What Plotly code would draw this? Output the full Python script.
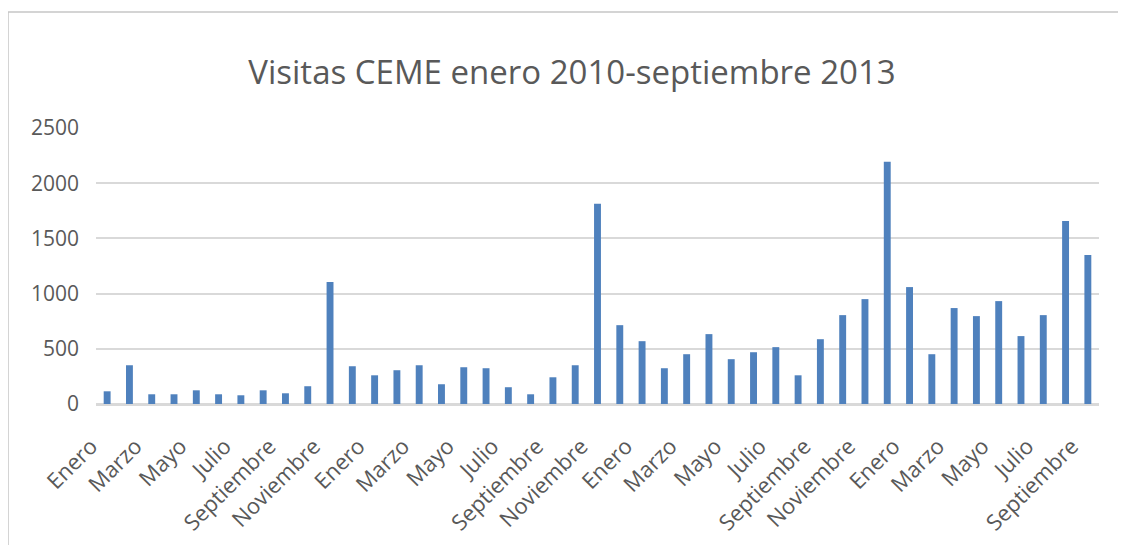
import plotly.graph_objects as go

months = ["Enero", "Febrero", "Marzo", "Abril", "Mayo", "Junio", "Julio", "Agosto",
          "Septiembre", "Octubre", "Noviembre", "Diciembre"]
years = [2010, 2011, 2012, 2013]
categories = [f"{m} {y}" for y in years for m in months][:45]
visitas = [115, 351, 88, 88, 124, 88, 79, 124, 97, 161, 1105, 342,
           260, 306, 351, 179, 333, 324, 152, 88, 242, 351, 1813, 714,
           569, 324, 451, 633, 406, 469, 515, 260, 587, 805, 950, 2194,
           1059, 451, 869, 796, 932, 615, 805, 1658, 1350]
tick_vals = categories[::2]
tick_text = [c.split(" ")[0] for c in tick_vals]

# page has an 8px body margin, so the figure is drawn 8px in from the top-left
OFF = 8
W, H = 1126 - OFF, 545 - OFF
ml, mt = 96 - OFF, 128 - OFF
plot_right, plot_bottom = 1099 - OFF, 404 - OFF
mr, mb = W - plot_right, H - plot_bottom
pw, ph = W - ml - mr, H - mt - mb

def px_x(p):
    return (p - OFF - ml) / pw

def px_y(p):
    return (H - mb - (p - OFF)) / ph

fig = go.Figure(go.Bar(x=categories, y=visitas, marker_color="#4f81bd",
                       marker_line_width=0))

fig.update_layout(
    width=W, height=H,
    margin=dict(l=ml, r=mr, t=mt, b=mb, autoexpand=False),
    paper_bgcolor="white", plot_bgcolor="white",
    bargap=0.69,
    showlegend=False,
    font=dict(family="Open Sans", color="#595959"),
    title=dict(text="Visitas CEME enero 2010-septiembre 2013",
               font=dict(family="Open Sans", size=33, color="#595959"),
               x=(572 - OFF) / W, xanchor="center",
               y=1 - (72 - OFF) / H, yanchor="middle",
               xref="container", yref="container"),
    xaxis=dict(type="category", tickmode="array", tickvals=tick_vals, ticktext=tick_text,
               tickangle=-45, tickfont=dict(size=22, color="#595959"),
               showgrid=False, showline=True, linecolor="#d9d9d9", linewidth=1.5,
               ticks="", ticklen=0, automargin=False,
               ticklabelstandoff=19, ticklabelshift=-16),
    yaxis=dict(range=[0, 2500], tickvals=[0, 500, 1000, 1500, 2000, 2500],
               tickfont=dict(size=21, color="#595959"),
               showgrid=True, gridcolor="#d9d9d9", gridwidth=1.5,
               zeroline=True, zerolinecolor="#d9d9d9", zerolinewidth=1.5,
               showline=False, ticks="", ticklabelstandoff=16, automargin=False),
    shapes=[
        dict(type="line", xref="paper", yref="paper",
             x0=px_x(8), x1=px_x(8), y0=px_y(12), y1=px_y(560),
             line=dict(color="#c6c6c6", width=1.5)),
        dict(type="line", xref="paper", yref="paper",
             x0=px_x(8), x1=px_x(1140), y0=px_y(12), y1=px_y(12),
             line=dict(color="#c6c6c6", width=1.5)),
    ],
)

fig.write_html("out.html")
